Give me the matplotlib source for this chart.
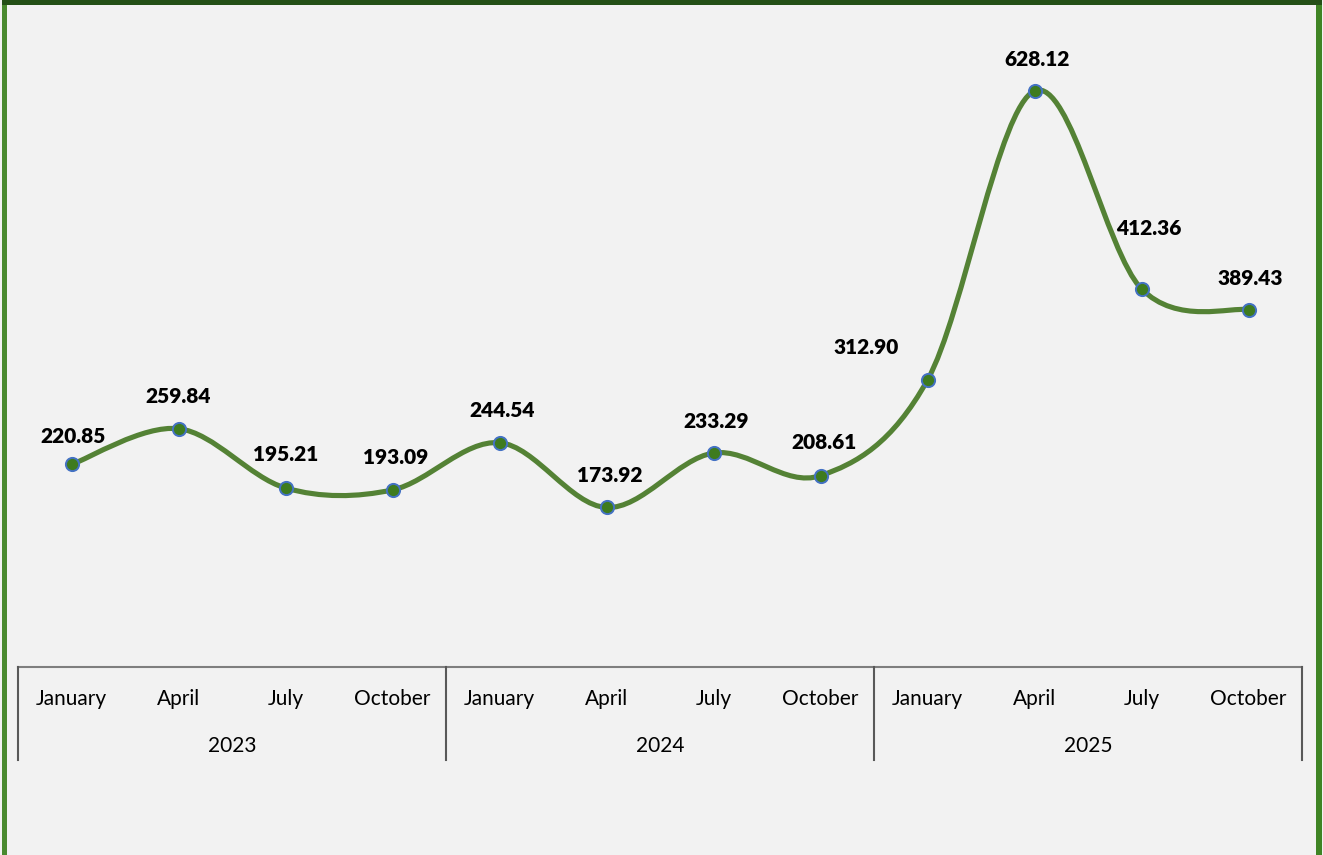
import matplotlib
matplotlib.use("Agg")
import matplotlib.pyplot as plt
from matplotlib.path import Path
from matplotlib.patches import PathPatch, Rectangle
from matplotlib.transforms import blended_transform_factory
import numpy as np

months = ["January", "April", "July", "October"] * 3
years = ["2023", "2024", "2025"]
values = [220.85, 259.84, 195.21, 193.09, 244.54, 173.92, 233.29, 208.61,
          312.90, 628.12, 412.36, 389.43]

# label offsets in pixels (style)
label_dx = [2, 0, 0, 3, 3, 3, 3, 3, -61, 3, 7, 2]
label_dy = [28, 32, 33, 32, 32, 32, 32, 33, 33, 31, 60, 31]

W, H = 1323, 855
fig = plt.figure(figsize=(W / 100, H / 100), dpi=100, facecolor="#F2F2F2")
ax = fig.add_axes([18 / W, 1 - 667 / H, (1302 - 18) / W, (667 - 25) / H])
ax.set_facecolor("none")
ax.set_xlim(-0.5, len(values) - 0.5)
ax.set_ylim(0, 700)
for s in ax.spines.values():
    s.set_visible(False)
ax.set_xticks([])
ax.set_yticks([])

x = np.arange(len(values))
y = np.array(values)

# smooth line (Catmull-Rom as cubic Bezier)
verts = [(x[0], y[0])]
codes = [Path.MOVETO]
n = len(x)
for i in range(n - 1):
    p0 = np.array([x[max(i - 1, 0)], y[max(i - 1, 0)]])
    p1 = np.array([x[i], y[i]])
    p2 = np.array([x[i + 1], y[i + 1]])
    p3 = np.array([x[min(i + 2, n - 1)], y[min(i + 2, n - 1)]])
    c1 = p1 + (p2 - p0) / 6
    c2 = p2 - (p3 - p1) / 6
    verts += [tuple(c1), tuple(c2), tuple(p2)]
    codes += [Path.CURVE4] * 3
ax.add_patch(PathPatch(Path(verts, codes), facecolor="none", edgecolor="#548235",
                       lw=3.7, capstyle="round", joinstyle="round", zorder=2))
ax.plot(x, y, ls="none", marker="o", ms=9.5, mfc="#3E7B1F", mec="#4472C4",
        mew=1.4, zorder=3)

for xi, yi, dx, dy in zip(x, y, label_dx, label_dy):
    ax.annotate(f"{yi:.2f}", (xi, yi), xytext=(dx, dy), textcoords="offset pixels",
                ha="center", va="center", fontsize=15, fontweight="heavy",
                family="Lato", color="#000000", zorder=4)

# category axis
trans = blended_transform_factory(ax.transData, fig.transFigure)
axis_c = "#595959"
ax.plot([-0.5, len(values) - 0.5], [0, 0], color="#7F7F7F", lw=1.5,
        clip_on=False, zorder=1)
for sx in [-0.5, 3.5, 7.5, 11.5]:
    ax.plot([sx, sx], [1 - 667 / H, 1 - 760 / H], color=axis_c, lw=1.5,
            transform=trans, clip_on=False)
for xi, m in zip(x, months):
    ax.text(xi, 1 - 699 / H, m, transform=trans, ha="center", va="center",
            fontsize=15, family="Lato", color="#000000")
for j, yr in enumerate(years):
    ax.text(4 * j + 1.5, 1 - 746 / H, yr, transform=trans, ha="center",
            va="center", fontsize=15, family="Lato", color="#000000")

# figure border
def frect(x0, y0, x1, y1, c):
    fig.patches.append(Rectangle((x0 / W, 1 - y1 / H), (x1 - x0) / W, (y1 - y0) / H,
                                 transform=fig.transFigure, facecolor=c,
                                 edgecolor="none", zorder=10))

frect(2, 0, 7, H, "#4A8A2F")
frect(1316, 0, 1321.5, H, "#3F8424")
frect(2, 0, 1321.5, 5, "#245017")

fig.savefig("out.png", dpi=100, facecolor=fig.get_facecolor())
